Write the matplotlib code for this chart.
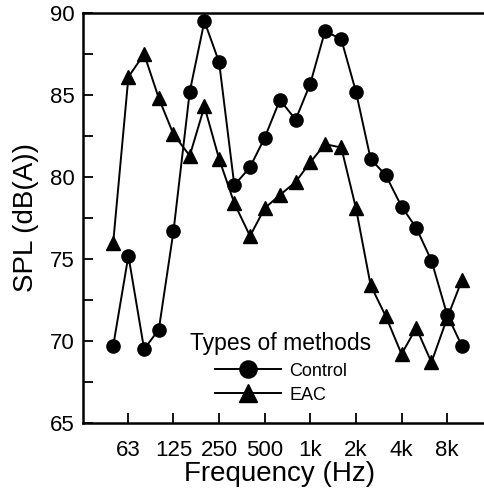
import numpy as np
import matplotlib.pyplot as plt

# 1/3 octave band centre frequencies (Hz)
freqs = [50, 63, 80, 100, 125, 160, 200, 250, 315, 400, 500, 630,
         800, 1000, 1250, 1600, 2000, 2500, 3150, 4000, 5000, 6300, 8000, 10000]

# SPL values, dB(A)
control = [69.7, 75.2, 69.5, 70.7, 76.7, 85.2, 89.5, 87.0, 79.5, 80.6, 82.4, 84.7,
           83.5, 85.7, 88.9, 88.4, 85.2, 81.1, 80.1, 78.2, 76.9, 74.9, 71.6, 69.7]
eac = [76.0, 86.1, 87.5, 84.8, 82.6, 81.3, 84.3, 81.1, 78.4, 76.4, 78.1, 78.9,
       79.7, 80.9, 82.0, 81.8, 78.1, 73.4, 71.5, 69.2, 70.8, 68.7, 71.4, 73.7]

tick_freqs = [63, 125, 250, 500, 1000, 2000, 4000, 8000]
tick_labels = ["63", "125", "250", "500", "1k", "2k", "4k", "8k"]

plt.rcParams['font.family'] = ['Liberation Sans', 'DejaVu Sans']

fig = plt.figure(figsize=(4.84, 4.99), dpi=100)
ax = fig.add_axes([83/484, 76/499, 1 - 83/484, (423 - 13)/499])

ax.plot(freqs, control, color='black', lw=1.4, marker='o', ms=9.5, label='Control')
ax.plot(freqs, eac, color='black', lw=1.4, marker='^', ms=10, label='EAC')

ax.set_xscale('log')
ax.set_xlim(31.6, 14000)
ax.set_ylim(65, 90)
ax.set_xticks(tick_freqs)
ax.set_xticklabels(tick_labels)
ax.minorticks_off()
ax.set_yticks(np.arange(65, 91, 5))
ax.set_yticks(np.arange(67.5, 90, 5), minor=True)

ax.tick_params(axis='both', which='both', direction='in', length=7, width=1.3,
               labelsize=16, pad=6)
ax.tick_params(axis='x', pad=12)
ax.spines['right'].set_visible(False)
for side in ['left', 'bottom', 'top']:
    ax.spines[side].set_linewidth(1.8)

# the original labels are wider than the tick labels
ax.set_xlabel("Frequency (Hz)", fontsize=20)
ax.set_ylabel("SPL (dB(A))", fontsize=20)
ax.xaxis.set_label_coords(0.491, -0.092)
ax.yaxis.set_label_coords(-0.11, 0.5)

# legend without a frame, title on top
leg = ax.legend(title="Types of methods", loc='center', frameon=False,
                bbox_to_anchor=(281/484, 1 - 368/499), bbox_transform=fig.transFigure,
                fontsize=13, title_fontsize=16.5, handlelength=3.7, handletextpad=0.45,
                labelspacing=0.4, markerscale=1.3, borderpad=0)

fig.savefig("out.png", dpi=100)
